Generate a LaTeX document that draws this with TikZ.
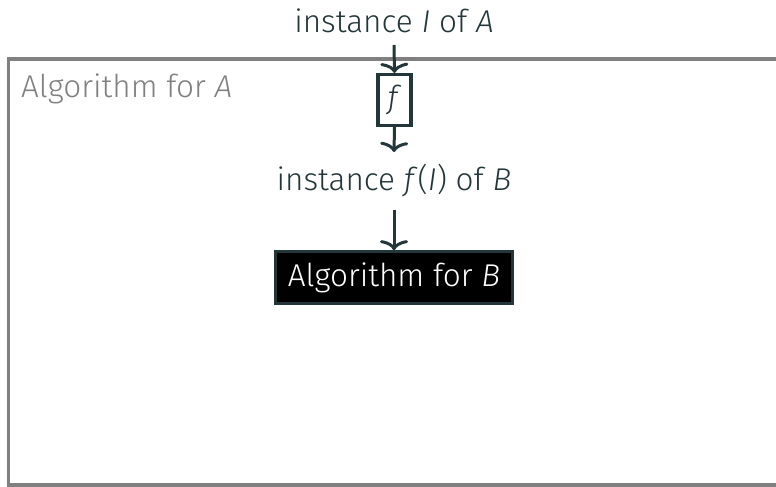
\documentclass[tikz,border=0pt]{standalone}
\usepackage{fontspec}
\setmainfont{Fira Sans Light}[ItalicFont={Fira Sans Light Italic}]
\usetikzlibrary{arrows.meta}
\definecolor{darkteal}{HTML}{23373B}
\definecolor{framegray}{HTML}{808080}
\begin{document}
\begin{tikzpicture}[x=1pt,y=1pt,
  every node/.style={font=\fontsize{31.5}{38}\selectfont},
  flow/.style={draw=darkteal, line width=3pt, -{To[length=10pt,width=28pt]}},
  plaintext/.style={text=darkteal, inner sep=0pt},
  mapbox/.style={draw=darkteal, line width=3.2pt, inner sep=0pt,
    minimum width=33pt, minimum height=51pt, text=darkteal},
  solverbox/.style={draw=darkteal, fill=black, text=white, line width=2.7pt,
    inner sep=0pt, minimum width=237pt, minimum height=52pt},
  outerframe/.style={draw=framegray, line width=3.5pt}]
\useasboundingbox (0,0) rectangle (776,487);

% enclosing algorithm for A
\draw[outerframe] (8.5,2) rectangle (800,428);
\node[anchor=base west, text=framegray, inner sep=0pt] (algA) at (21,389)
  {Algorithm for \textit{A}};

% input instance and the reduction f
\node[plaintext, anchor=base] (instA) at (394,454) {instance \textit{I} of \textit{A}};
\node[mapbox] (f) at (394.5,387) {\textit{f}};

% transformed instance and the solver for B
\node[plaintext, anchor=base] (instB) at (394,296) {instance \textit{f}(\textit{I}) of \textit{B}};
\node[solverbox] (algB) at (394,209.5) {Algorithm for \textit{B}};

\draw[flow] ([yshift=-12pt]instA.base) -- (f.north);
\draw[flow] (f.south) -- ([yshift=39pt]instB.base);
\draw[flow] ([yshift=-19pt]instB.base) -- (algB.north);
\end{tikzpicture}
\end{document}
